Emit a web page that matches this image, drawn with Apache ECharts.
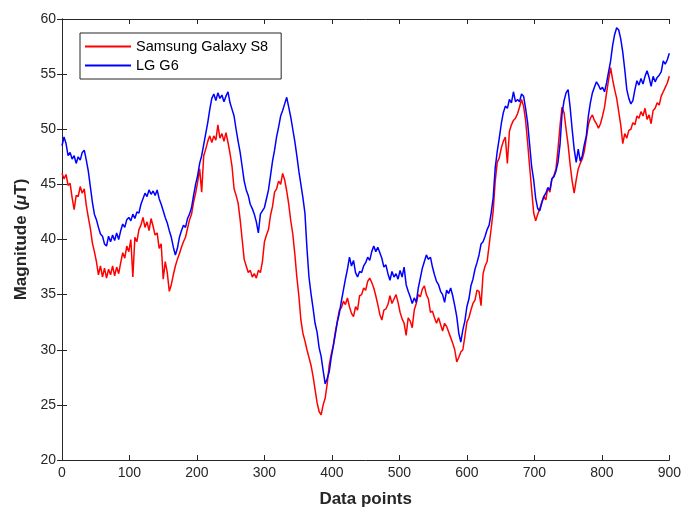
<!DOCTYPE html>
<html>
<head>
<meta charset="utf-8">
<script src="https://cdn.jsdelivr.net/npm/echarts@6/dist/echarts.min.js"></script>
<style>
  html, body { margin: 0; padding: 0; background: #fff; }
  #chart { width: 684px; height: 513px; }
</style>
</head>
<body>
<div id="chart"></div>
<script>
// Data points between stored readings
const sampleStep = 3;

// Magnetic field magnitude (uT), one reading every sampleStep data points
const samsungS8 = [
  46.0, 45.5, 45.9, 44.9, 45.1, 43.8, 42.7, 44.0, 43.9, 44.8,
  44.2, 44.6, 43.1, 42.0, 41.0, 39.7, 38.9, 38.0, 36.8, 37.6,
  36.6, 37.4, 36.5, 37.3, 36.8, 37.6, 36.7, 37.5, 36.9, 37.9,
  38.8, 38.3, 39.4, 38.9, 40.0, 36.6, 40.2, 39.8, 40.9, 41.3,
  42.0, 41.1, 41.6, 40.8, 41.9, 41.2, 40.4, 40.6, 39.2, 39.6,
  36.4, 38.0, 37.0, 35.3, 35.9, 36.8, 37.6, 38.2, 38.7, 39.3,
  39.8, 40.2, 41.0, 41.8, 42.3, 43.4, 44.2, 45.2, 46.4, 44.3,
  47.6, 48.2, 48.9, 49.4, 48.8, 49.4, 49.0, 50.4, 49.2, 49.6,
  48.9, 49.7, 48.8, 47.8, 46.6, 44.6, 44.0, 43.3, 41.8, 40.0,
  38.2, 37.6, 37.0, 37.2, 36.6, 36.9, 36.5, 37.2, 37.0, 38.0,
  39.8, 40.4, 40.9, 42.2, 43.0, 44.3, 44.6, 45.3, 45.0, 46.0,
  45.4, 44.4, 43.2, 41.7, 40.5, 38.7, 36.6, 34.9, 32.7, 31.5,
  30.8, 30.0, 29.3, 28.6, 27.6, 26.4, 25.2, 24.4, 24.1, 25.0,
  25.6, 26.9, 28.6, 29.6, 30.4, 31.6, 32.6, 33.6, 33.8, 34.4,
  34.1, 34.7, 33.9, 33.3, 33.0, 33.9, 33.6, 34.9, 35.0, 35.6,
  35.4, 36.2, 36.5, 36.1, 35.6, 34.9, 34.1, 33.2, 32.7, 33.6,
  33.7, 34.1, 34.9, 34.2, 34.6, 35.0, 34.3, 33.4, 32.8, 32.4,
  31.3, 32.9, 32.6, 32.0, 33.6, 34.2, 35.0, 34.8, 35.5, 35.8,
  35.0, 34.6, 33.4, 33.5, 32.9, 32.4, 32.9, 32.3, 31.7, 32.4,
  32.1, 31.6, 31.1, 30.6, 30.0, 28.9, 29.3, 29.8, 30.0, 31.2,
  32.5, 32.9, 33.6, 34.2, 34.5, 35.4, 35.3, 34.0, 36.9, 37.6,
  38.0, 39.5, 41.0, 42.6, 45.3, 47.0, 47.4, 48.3, 48.9, 49.3,
  46.9, 49.8, 50.4, 50.8, 51.0, 51.4, 52.0, 52.7, 52.1, 50.8,
  48.8, 46.6, 44.5, 42.4, 41.7, 42.3, 42.8, 43.4, 43.9, 43.6,
  44.7, 44.3, 45.5, 45.8, 46.4, 48.2, 50.3, 52.0, 51.5, 50.0,
  48.6, 46.8, 45.3, 44.2, 45.4, 46.4, 46.9, 47.3, 48.0, 49.2,
  50.4, 51.0, 51.3, 50.8, 50.5, 50.1, 50.5, 51.2, 52.0, 53.3,
  54.5, 55.6, 54.5, 53.6, 52.8, 51.6, 50.4, 48.7, 49.6, 49.2,
  49.9, 50.0, 50.6, 50.4, 51.2, 51.0, 51.6, 51.2, 51.9, 50.9,
  51.3, 50.5, 51.7, 51.9, 52.4, 52.2, 53.0, 53.4, 53.8, 54.2,
  54.8
];

const lgG6 = [
  48.5, 49.3, 48.7, 47.6, 47.9, 47.3, 47.6, 46.9, 47.5, 47.2,
  47.9, 48.1, 47.2, 46.2, 44.8, 43.4, 42.3, 41.8, 41.1, 40.5,
  40.3, 39.6, 39.4, 40.3, 39.8, 40.4, 39.9, 40.6, 40.0, 40.8,
  41.4, 41.1, 41.8, 42.0, 41.7, 42.3, 41.9, 42.5, 42.4, 43.2,
  43.7, 44.2, 43.9, 44.5, 44.1, 44.4, 44.0, 44.5, 43.7, 43.2,
  42.6, 42.0, 41.5, 40.8, 40.2, 39.3, 38.6, 39.2, 40.2, 40.8,
  41.3, 41.1, 41.9, 42.3, 42.9, 44.0, 45.0, 45.8, 46.9, 47.6,
  48.6, 49.6, 50.6, 51.8, 52.8, 53.2, 52.6, 53.3, 52.8, 53.1,
  52.5, 53.0, 53.4, 52.4, 51.8, 51.2, 50.0, 48.9, 47.9, 46.6,
  45.3, 44.5, 44.0, 43.2, 42.8, 42.3, 41.6, 40.6, 42.3, 42.6,
  42.9, 43.7, 44.5, 45.8, 47.1, 48.1, 49.3, 50.2, 51.2, 51.7,
  52.3, 52.9, 52.0, 51.1, 50.0, 48.9, 47.6, 46.2, 45.0, 43.8,
  42.4, 39.2, 36.6, 35.1, 33.8, 32.4, 31.6, 30.2, 29.4, 28.1,
  26.9, 27.4, 28.0, 29.3, 30.3, 31.4, 32.5, 33.3, 34.4, 35.4,
  36.4, 37.3, 38.4, 37.6, 38.1, 37.0, 36.6, 37.1, 37.0, 37.6,
  37.9, 38.4, 38.1, 38.9, 39.4, 38.9, 39.3, 38.8, 38.3, 37.5,
  37.7, 36.9, 36.3, 37.1, 36.6, 36.9, 36.4, 37.2, 36.6, 37.5,
  35.9, 35.3, 34.8, 34.2, 34.7, 34.3, 35.6, 36.5, 37.4, 38.0,
  38.6, 38.2, 38.4, 37.5, 36.8, 36.2, 35.9, 35.3, 35.0, 34.3,
  35.4, 35.1, 35.6, 34.9, 34.0, 33.0, 31.5, 30.7, 31.8, 32.6,
  33.9, 34.6, 35.8, 36.4, 37.3, 37.9, 38.6, 39.6, 39.8, 40.3,
  40.9, 41.3, 42.4, 43.8, 46.5, 48.0, 49.2, 50.5, 51.5, 52.1,
  51.9, 52.7, 52.4, 53.4, 52.5, 52.7, 52.5, 53.2, 53.0, 51.9,
  50.6, 48.6, 46.6, 45.4, 43.7, 42.8, 42.6, 43.3, 43.9, 44.2,
  44.7, 44.5, 45.5, 45.7, 46.2, 47.0, 48.6, 51.4, 52.6, 53.3,
  53.6, 52.0, 50.0, 48.2, 47.0, 48.2, 47.1, 47.6, 48.6, 49.4,
  51.2, 52.4, 53.3, 53.8, 54.3, 54.0, 53.6, 53.8, 53.4, 54.2,
  55.2, 56.2, 57.6, 58.6, 59.2, 59.0, 58.2, 57.0, 55.4, 53.6,
  52.8, 52.3, 52.6, 53.6, 54.4, 54.0, 54.6, 54.1, 54.8, 55.3,
  54.7, 53.9, 54.8, 54.3, 54.7, 54.9, 55.2, 56.2, 55.9, 56.3,
  56.9
];

// Axis ticks
const xTicks = [0, 100, 200, 300, 400, 500, 600, 700, 800, 900];
const yTicks = [20, 25, 30, 35, 40, 45, 50, 55, 60];

const seriesNames = ['Samsung Galaxy S8', 'LG G6'];
const seriesColors = ['#ff0000', '#0000ff'];

const toPairs = arr => arr.map((v, i) => [i * sampleStep, v]);

const axisColor = '#262626';
const fontFamily = '"Liberation Sans", Arial, Helvetica, sans-serif';

const baseX = {
  type: 'value',
  min: xTicks[0],
  max: xTicks[xTicks.length - 1],
  interval: xTicks[1] - xTicks[0],
  splitLine: { show: false },
  axisLine: { show: true, lineStyle: { color: axisColor, width: 1 } },
  axisTick: { show: true, inside: true, length: 5, lineStyle: { color: axisColor } }
};
const baseY = {
  type: 'value',
  min: yTicks[0],
  max: yTicks[yTicks.length - 1],
  interval: yTicks[1] - yTicks[0],
  splitLine: { show: false },
  axisLine: { show: true, lineStyle: { color: axisColor, width: 1 } },
  axisTick: { show: true, inside: true, length: 5, lineStyle: { color: axisColor } }
};

const chart = echarts.init(document.getElementById('chart'), null, { renderer: 'canvas' });
chart.setOption({
  backgroundColor: '#ffffff',
  animation: false,
  textStyle: { fontFamily: fontFamily },
  grid: { left: 62, right: 14, top: 19, bottom: 51, containLabel: false },
  legend: {
    data: seriesNames,
    orient: 'vertical',
    left: 80,
    top: 33,
    padding: [6, 13, 6, 5],
    itemGap: 4,
    itemWidth: 46,
    itemHeight: 2,
    icon: 'rect',
    backgroundColor: '#ffffff',
    borderColor: axisColor,
    borderWidth: 1,
    borderRadius: 0,
    textStyle: { fontSize: 14.5, color: '#000000', fontFamily: fontFamily }
  },
  xAxis: [
    Object.assign({}, baseX, {
      position: 'bottom',
      name: 'Data points',
      nameLocation: 'middle',
      nameGap: 31,
      nameTextStyle: { fontSize: 17, fontWeight: 'bold', color: axisColor, fontFamily: fontFamily },
      axisLabel: { fontSize: 14, color: axisColor, margin: 6, fontFamily: fontFamily }
    }),
    Object.assign({}, baseX, { position: 'top', axisLabel: { show: false } })
  ],
  yAxis: [
    Object.assign({}, baseY, {
      position: 'left',
      name: '{b|Magnitude (}{i|μ}{b|T)}',
      nameLocation: 'middle',
      nameGap: 28,
      nameTextStyle: {
        rich: {
          b: { fontSize: 17, fontWeight: 'bold', color: axisColor, fontFamily: fontFamily },
          i: { fontSize: 17, fontWeight: 'bold', fontStyle: 'italic', color: axisColor, fontFamily: fontFamily }
        }
      },
      axisLabel: { fontSize: 14, color: axisColor, margin: 6, fontFamily: fontFamily }
    }),
    Object.assign({}, baseY, { position: 'right', axisLabel: { show: false } })
  ],
  series: [
    {
      name: seriesNames[0],
      type: 'line',
      data: toPairs(samsungS8),
      showSymbol: false,
      symbol: 'none',
      lineStyle: { color: seriesColors[0], width: 1.5 },
      itemStyle: { color: seriesColors[0] },
      z: 2
    },
    {
      name: seriesNames[1],
      type: 'line',
      data: toPairs(lgG6),
      showSymbol: false,
      symbol: 'none',
      lineStyle: { color: seriesColors[1], width: 1.5 },
      itemStyle: { color: seriesColors[1] },
      z: 3
    }
  ]
});
</script>
</body>
</html>
